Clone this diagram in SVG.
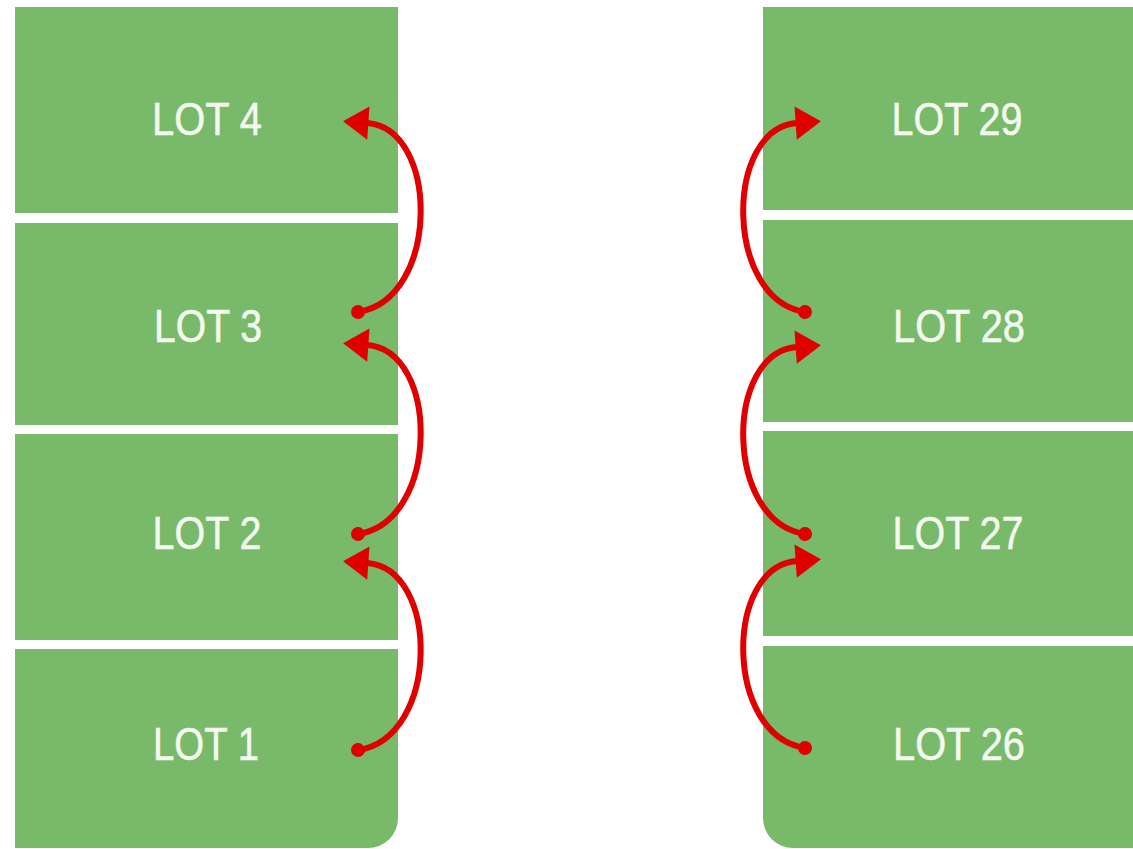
<svg xmlns="http://www.w3.org/2000/svg" width="1133" height="849" viewBox="0 0 1133 849">
<style>
.lot{fill:#79b96a}
.lbl{fill:#f3f9ef;font-family:"Liberation Sans",Arial,sans-serif;font-size:47px;text-anchor:middle;stroke:#f3f9ef;stroke-width:0.6}
.arr{fill:none;stroke:#e00000;stroke-width:6;stroke-linecap:round}
</style>
<defs>
<marker id="head" markerUnits="userSpaceOnUse" markerWidth="40" markerHeight="40" viewBox="-2 -15 26 30" refX="1" refY="0" orient="auto">
<path d="M0,-12.5 L19,0 L0,12.5 z" fill="#e00000"/>
</marker>
<marker id="dot" markerUnits="userSpaceOnUse" markerWidth="18" markerHeight="18" viewBox="-9 -9 18 18" refX="0" refY="0" orient="auto">
<circle cx="0" cy="0" r="7" fill="#e00000"/>
</marker>
</defs>
<rect width="1133" height="849" fill="#ffffff"/>
<g id="lot4"><rect class="lot" x="15" y="7" width="383" height="206"/><text class="lbl" x="207" y="135" textLength="110" lengthAdjust="spacingAndGlyphs">LOT 4</text></g>
<g id="lot3"><rect class="lot" x="15" y="223" width="383" height="202"/><text class="lbl" x="208" y="342" textLength="108" lengthAdjust="spacingAndGlyphs">LOT 3</text></g>
<g id="lot2"><rect class="lot" x="15" y="434" width="383" height="206"/><text class="lbl" x="207" y="549" textLength="109" lengthAdjust="spacingAndGlyphs">LOT 2</text></g>
<g id="lot1"><path class="lot" d="M15,649 H398 V818 A30,30 0 0 1 368,848 H15 Z"/><text class="lbl" x="206" y="760" textLength="106" lengthAdjust="spacingAndGlyphs">LOT 1</text></g>
<g id="lot29"><rect class="lot" x="763" y="7" width="370" height="203"/><text class="lbl" x="957" y="135" textLength="131" lengthAdjust="spacingAndGlyphs">LOT 29</text></g>
<g id="lot28"><rect class="lot" x="763" y="220" width="370" height="202"/><text class="lbl" x="959" y="342" textLength="132" lengthAdjust="spacingAndGlyphs">LOT 28</text></g>
<g id="lot27"><rect class="lot" x="763" y="431" width="370" height="205"/><text class="lbl" x="958" y="549" textLength="131" lengthAdjust="spacingAndGlyphs">LOT 27</text></g>
<g id="lot26"><path class="lot" d="M763,646 H1133 V848 H793 A30,30 0 0 1 763,818 Z"/><text class="lbl" x="959" y="760" textLength="132" lengthAdjust="spacingAndGlyphs">LOT 26</text></g>
<g id="connectors">
<path class="arr" marker-start="url(#dot)" marker-end="url(#head)" d="M358,750 C440,738 440,568 367,563"/>
<path class="arr" marker-start="url(#dot)" marker-end="url(#head)" d="M358,534 C440,522 440,350 367,345"/>
<path class="arr" marker-start="url(#dot)" marker-end="url(#head)" d="M358,312 C440,300 440,128 367,123"/>
<path class="arr" marker-start="url(#dot)" marker-end="url(#head)" d="M805,748 C724,736 724,566 797,561"/>
<path class="arr" marker-start="url(#dot)" marker-end="url(#head)" d="M805,534 C724,522 724,352 797,347"/>
<path class="arr" marker-start="url(#dot)" marker-end="url(#head)" d="M805,312 C724,300 724,128 797,123"/>
</g>
</svg>
